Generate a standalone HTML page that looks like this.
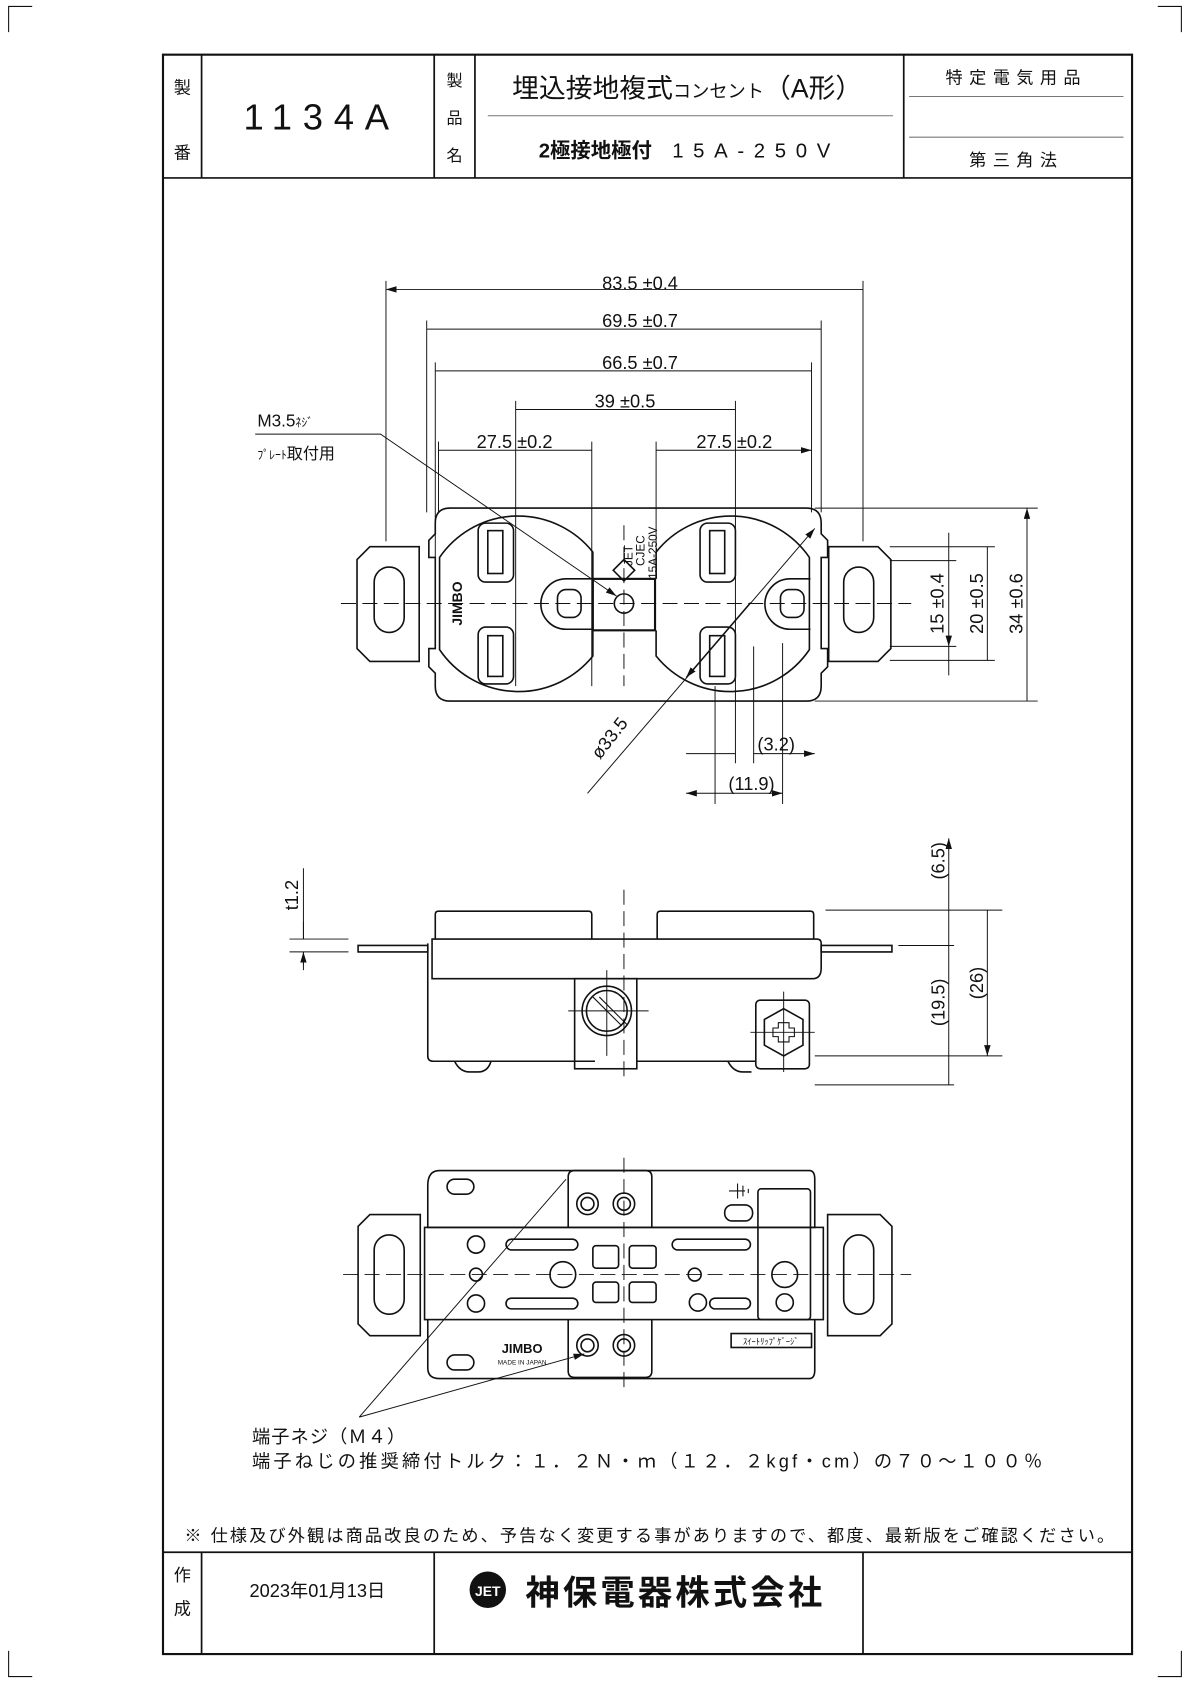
<!DOCTYPE html>
<html><head><meta charset="utf-8"><style>
html,body{margin:0;padding:0;background:#fff}
svg{display:block}
text{font-family:"Liberation Sans","Noto Sans CJK JP",sans-serif;fill:#111}
</style></head><body>
<svg width="1190" height="1683" viewBox="0 0 1110 1570" xmlns="http://www.w3.org/2000/svg">
<defs>
<marker id="a" viewBox="0 0 10 6" refX="10" refY="3" markerWidth="10" markerHeight="6" orient="auto-start-reverse" markerUnits="userSpaceOnUse"><path d="M0,0 L10,3 L0,6 z" fill="#111"/></marker>
</defs>
<g fill="none" stroke="#111" stroke-width="1">
<path d="M8,30 V6 H30 M1080,6 H1102 V30 M8,1540 V1564 H30 M1080,1564 H1102 V1540"/>
<rect x="152" y="51" width="904" height="1492" stroke-width="2"/>
<path d="M152,166 H1056 M188,51 V166 M405,51 V166 M443,51 V166 M843,51 V166" stroke-width="1.6"/>
<path d="M455,108 H833 M848,90 H1048 M848,128 H1048" stroke="#777"/>
<path d="M152,1448 H1056 M188,1448 V1543 M405,1448 V1543 M805,1448 V1543" stroke-width="1.6"/>
</g>
<text x="170" y="87" font-size="16" text-anchor="middle">製</text>
<text x="170" y="148" font-size="16" text-anchor="middle">番</text>
<text x="300" y="121" font-size="34" text-anchor="middle" letter-spacing="10">1134A</text>
<text x="424" y="80" font-size="15" text-anchor="middle">製</text>
<text x="424" y="115" font-size="15" text-anchor="middle">品</text>
<text x="424" y="150" font-size="15" text-anchor="middle">名</text>
<text x="641" y="91" font-size="25" text-anchor="middle">埋込接地複式<tspan font-size="17">コンセント</tspan>（A形）</text>
<text x="643" y="147" font-size="19" text-anchor="middle" font-weight="bold">2極接地極付　<tspan letter-spacing="9" font-weight="normal">15A-250V</tspan></text>
<text x="948" y="78" font-size="16" text-anchor="middle" letter-spacing="6">特定電気用品</text>
<text x="948" y="155" font-size="16" text-anchor="middle" letter-spacing="6">第三角法</text>
<text x="172" y="1438" font-size="16" letter-spacing="2">※ 仕様及び外観は商品改良のため、予告なく変更する事がありますので、都度、最新版をご確認ください。</text>
<text x="170" y="1475" font-size="16" text-anchor="middle">作</text>
<text x="170" y="1506" font-size="16" text-anchor="middle">成</text>
<text x="296" y="1490" font-size="17" text-anchor="middle">2023年01月13日</text>
<circle cx="455" cy="1483" r="17" fill="#111"/>
<text x="455" y="1489" font-size="13" text-anchor="middle" font-weight="bold" style="fill:#fff">JET</text>
<text x="490" y="1497" font-size="32" font-weight="bold" letter-spacing="3">神保電器株式会社</text>

<!-- TOP VIEW -->
<g fill="none" stroke="#111" stroke-width="1.5">
<path d="M345,510 H391 V617 H345 L333,605 V522 Z"/>
<rect x="349" y="529" width="28" height="61" rx="14"/>
<path d="M819,510 H773 V617 H819 L831,605 V522 Z"/>
<rect x="787" y="529" width="28" height="61" rx="14"/>
<path d="M420,474 H752 Q766,474 766,488 V498 L772,504 V520 H766 V605 H772 V622 L766,628 V640 Q766,654 752,654 H420 Q406,654 406,640 V628 L400,622 V605 H406 V520 H400 V504 L406,498 V488 Q406,474 420,474 Z"/>
<path d="M553,540 V515 A89,89 0 0 0 410,520 V606 A89,89 0 0 0 553,612 V588"/>
<path d="M612,540 V515 A89,89 0 0 1 755,520 V606 A89,89 0 0 1 612,612 V588"/>
<rect x="553" y="540" width="58" height="48" stroke-width="2"/>
<circle cx="582" cy="563" r="9"/>
<rect x="446" y="488" width="33" height="55" rx="7"/>
<rect x="455" y="495" width="14" height="40"/>
<rect x="446" y="585" width="33" height="53" rx="7"/>
<rect x="455" y="593" width="14" height="38"/>
<rect x="653" y="488" width="33" height="55" rx="7"/>
<rect x="662" y="495" width="14" height="40"/>
<rect x="653" y="585" width="33" height="53" rx="7"/>
<rect x="662" y="593" width="14" height="38"/>
<path d="M553,540 H528 A23,23 0 0 0 528,587 H553"/>
<rect x="520" y="550" width="22" height="26" rx="8"/>
<path d="M756,540 H737 A23,23 0 0 0 737,587 H756"/>
<rect x="728" y="550" width="22" height="26" rx="8"/>
</g>
<text x="0" y="0" font-size="13" font-weight="bold" text-anchor="middle" transform="translate(431,563) rotate(-90)">JIMBO</text>
<text x="0" y="0" font-size="11" transform="translate(590,528) rotate(-90)">JET</text>
<text x="0" y="0" font-size="11" transform="translate(601,528) rotate(-90)">CJEC</text>
<text x="0" y="0" font-size="11" transform="translate(613,540) rotate(-90)">15A-250V</text>
<path d="M582,522 L592,532 L582,542 L572,532 Z" fill="none" stroke="#111" stroke-width="1.5"/>
<g stroke="#111" stroke-width="0.9" fill="none">
<path d="M318,563 H850" stroke-dasharray="14,6"/>
<path d="M582,490 V640" stroke-dasharray="14,6"/>
<path d="M360,262 V505 M805,262 V505 M398,299 V478 M766,299 V478 M406,338 V520 M757,338 V478 M481,374 V640 M686,374 V640 M409,412 V478 M552,412 V640 M612,412 V540"/>
<path d="M360,270 H805 M398,307 H766 M406,346 H757 M481,382 H686 M409,420 H552 M612,420 H757" marker-start="url(#a)" marker-end="url(#a)"/>
<path d="M760,474 H968 M760,654 H968 M830,510 H928 M830,616 H928 M830,523 H892 M830,603 H892"/>
<path d="M958,474 V654 M921,510 V616 M885,523 V603" marker-start="url(#a)" marker-end="url(#a)"/>
<path d="M885,497 V523 M885,603 V630"/>
<path d="M667,640 V750 M686,640 V712 M703,603 V712 M730,600 V750"/>
<path d="M640,703 H686 M703,703 H760" marker-end="url(#a)"/>
<path d="M640,740 H667 M667,740 H730" marker-start="url(#a)" marker-end="url(#a)"/>
<path d="M548,740 L760,493" marker-end="url(#a)"/>
<path d="M700,562 L640,632" marker-end="url(#a)"/>
<path d="M238,405 H355 L575,556" marker-end="url(#a)"/>
</g>
<g font-size="17" text-anchor="middle">
<text x="597" y="270">83.5 ±0.4</text>
<text x="597" y="305">69.5 ±0.7</text>
<text x="597" y="344">66.5 ±0.7</text>
<text x="583" y="380">39 ±0.5</text>
<text x="480" y="418">27.5 ±0.2</text>
<text x="685" y="418">27.5 ±0.2</text>
<text x="724" y="700">(3.2)</text>
<text x="701" y="737">(11.9)</text>
<text transform="translate(880,563) rotate(-90)">15 ±0.4</text>
<text transform="translate(917,563) rotate(-90)">20 ±0.5</text>
<text transform="translate(954,563) rotate(-90)">34 ±0.6</text>
<text transform="translate(573,692) rotate(-52)">ø33.5</text>
</g>
<text x="240" y="398" font-size="16">M3.5<tspan font-size="11">ﾈｼﾞ</tspan></text>
<text x="240" y="428" font-size="15"><tspan font-size="11">ﾌﾟﾚｰﾄ</tspan>取付用</text>

<!-- SIDE VIEW -->
<g fill="none" stroke="#111" stroke-width="1.5">
<path d="M406,876 V853 Q406,850 409,850 H549 Q552,850 552,853 V876"/>
<path d="M613,876 V853 Q613,850 616,850 H756 Q759,850 759,853 V876"/>
<path d="M403,876 H762 Q766,876 766,880 V903 Q766,913 758,913 H403 Z"/>
<path d="M399,880 V985 Q399,990 404,990 H555 M594,990 H705"/>
<path d="M334,882 H399 V888 H334 Z M766,882 H832 V888 H766 Z"/>
<rect x="536" y="913" width="58" height="84"/>
<circle cx="566" cy="943" r="23"/>
<circle cx="566" cy="943" r="19"/>
<path d="M553,930 L579,956 M559,930 L585,956" stroke-width="1"/>
<rect x="705" y="933" width="50" height="64" rx="4"/>
<path d="M731,941 L749,951 V975 L731,985 L713,975 V951 Z"/>
<path d="M726,954 h10 v5 h5 v8 h-5 v5 h-10 v-5 h-5 v-8 h5 z" stroke-width="1"/>
<path d="M424,990 q5,10 14,10 h8 q9,0 12,-10 M679,990 q5,10 14,10 h8"/>
</g>
<g stroke="#111" stroke-width="0.9" fill="none">
<path d="M582,830 V1005" stroke-dasharray="14,6"/>
<path d="M530,943 H605 M566,905 V985 M700,963 H760 M731,925 V1000"/>
<path d="M770,849 H935 M838,882 H890 M760,985 H935 M760,1012 H890"/>
<path d="M885,782 V882 M885,882 V1012 M921,849 V985" marker-start="url(#a)" marker-end="url(#a)"/>
<path d="M270,876 H325 M270,888 H325 M283,810 V876 M283,888 V900"/>
<path d="M283,860 V876 M283,905 V888" marker-end="url(#a)"/>
</g>
<g font-size="17" text-anchor="middle">
<text transform="translate(881,803) rotate(-90)">(6.5)</text>
<text transform="translate(881,935) rotate(-90)">(19.5)</text>
<text transform="translate(917,917) rotate(-90)">(26)</text>
<text transform="translate(278,835) rotate(-90)">t1.2</text>
</g>

<!-- BOTTOM VIEW -->
<g fill="none" stroke="#111" stroke-width="1.5">
<path d="M345,1133 H392 V1246 H345 L334,1235 V1144 Z"/>
<rect x="349" y="1152" width="28" height="74" rx="14"/>
<path d="M821,1133 H772 V1246 H821 L832,1235 V1144 Z"/>
<rect x="787" y="1152" width="28" height="74" rx="14"/>
<path d="M410,1092 H755 Q760,1092 760,1100 V1145 H399 V1106 Q399,1092 410,1092 Z"/>
<rect x="396" y="1145" width="372" height="86"/>
<path d="M399,1231 V1276 Q399,1286 410,1286 H755 Q760,1286 760,1278 V1231"/>
<path d="M530,1145 V1098 Q530,1092 536,1092 H602 Q608,1092 608,1098 V1145"/>
<path d="M530,1231 V1279 Q530,1285 536,1285 H602 Q608,1285 608,1279 V1231"/>
<circle cx="548" cy="1123" r="10"/><circle cx="548" cy="1123" r="6"/>
<circle cx="582" cy="1123" r="10"/><circle cx="582" cy="1123" r="6"/>
<circle cx="548" cy="1255" r="10"/><circle cx="548" cy="1255" r="6"/>
<circle cx="582" cy="1255" r="10"/><circle cx="582" cy="1255" r="6"/>
<rect x="417" y="1100" width="25" height="14" rx="7"/>
<rect x="417" y="1264" width="25" height="14" rx="7"/>
<rect x="472" y="1156" width="67" height="10" rx="5"/>
<rect x="472" y="1211" width="67" height="10" rx="5"/>
<rect x="627" y="1156" width="73" height="10" rx="5"/>
<rect x="662" y="1211" width="38" height="10" rx="5"/>
<circle cx="444" cy="1161" r="8"/><circle cx="444" cy="1189" r="6"/><circle cx="444" cy="1216" r="8"/>
<circle cx="525" cy="1189" r="12"/>
<circle cx="648" cy="1189" r="6"/><circle cx="651" cy="1215" r="8"/>
<rect x="553" y="1162" width="24" height="21" rx="3"/><rect x="587" y="1162" width="25" height="21" rx="3"/>
<rect x="553" y="1196" width="24" height="19" rx="3"/><rect x="587" y="1196" width="25" height="19" rx="3"/>
<rect x="707" y="1109" width="49" height="122" rx="3"/>
<circle cx="732" cy="1189" r="12"/><circle cx="732" cy="1215" r="8"/>
<rect x="682" y="1244" width="75" height="13"/>
<rect x="676" y="1124" width="26" height="15" rx="7"/>
</g>
<text x="487" y="1262" font-size="12" font-weight="bold" text-anchor="middle">JIMBO</text>
<text x="487" y="1273" font-size="6" text-anchor="middle">MADE IN JAPAN</text>
<text x="719" y="1254" font-size="8" text-anchor="middle">ｽｲｰﾄﾘｯﾌﾟｹﾞｰｼﾞ</text>
<path d="M680,1111 H695 M688,1104 V1118 M693,1106 V1116 M698,1109 V1113" stroke="#111" fill="none"/>
<g stroke="#111" stroke-width="0.9" fill="none">
<path d="M320,1189 H850" stroke-dasharray="14,6"/>
<path d="M582,1080 V1300" stroke-dasharray="14,6"/>
<path d="M335,1322 L528,1100 M335,1322 L545,1263" marker-end="url(#a)"/>
</g>
<text x="235" y="1346" font-size="17" letter-spacing="1">端子ネジ（Ｍ４）</text>
<text x="235" y="1369" font-size="17" letter-spacing="3">端子ねじの推奨締付トルク：１．２Ｎ・ｍ（１２．２kgf・cm）の７０～１００％</text>
</svg>
</body></html>
